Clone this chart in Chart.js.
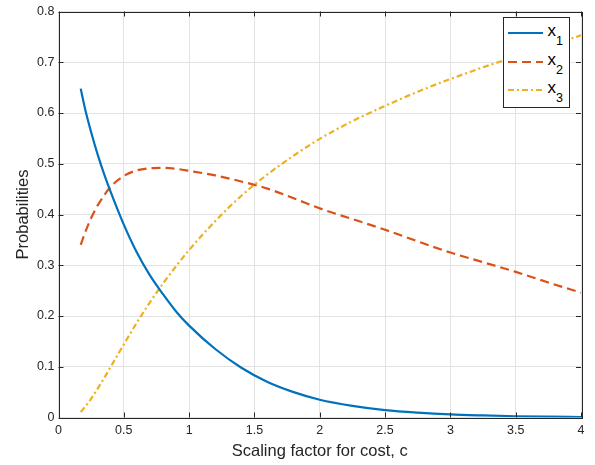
<!DOCTYPE html>
<html>
<head>
<meta charset="utf-8">
<script src="https://cdn.jsdelivr.net/npm/chart.js@4.4.1/dist/chart.umd.min.js"></script>
<style>
    html, body { margin: 0; padding: 0; background: #ffffff; }
    #wrap { position: relative; width: 595px; height: 465px; }
    #legendBox { position: absolute; left: 503px; top: 17px; }
</style>
</head>
<body>
<div id="wrap">
    <canvas id="probChart" width="595" height="465"></canvas>
    <svg id="legendBox" width="67" height="91"></svg>
</div>
<script>
// scaling factor for cost, c
const costFactor = [0.17, 0.2, 0.25, 0.3, 0.35, 0.4, 0.5, 0.6, 0.7, 0.8, 0.9, 1.0,
    1.2, 1.4, 1.6, 1.8, 2.0, 2.25, 2.5, 2.75, 3.0, 3.25, 3.5, 3.75, 4.0];

const x1Values = [0.648, 0.612, 0.562, 0.518, 0.479, 0.444, 0.38, 0.325, 0.28, 0.243, 0.209, 0.181,
    0.135, 0.098, 0.07, 0.05, 0.035, 0.023, 0.0146, 0.0095, 0.006, 0.004, 0.0025, 0.0016, 0.001];
const x2Values = [0.34, 0.362, 0.393, 0.418, 0.438, 0.455, 0.476, 0.487, 0.491, 0.492, 0.49, 0.486,
    0.477, 0.465, 0.451, 0.432, 0.412, 0.391, 0.37, 0.347, 0.325, 0.306, 0.287, 0.266, 0.246];
const x3Values = [0.011, 0.02, 0.037, 0.057, 0.078, 0.10, 0.144, 0.187, 0.227, 0.264, 0.298, 0.33,
    0.387, 0.437, 0.479, 0.516, 0.549, 0.584, 0.614, 0.642, 0.667, 0.69, 0.711, 0.732, 0.753];

const seriesNames = ['1', '2', '3'];   // subscripts of x
const xTicks = [0, 0.5, 1, 1.5, 2, 2.5, 3, 3.5, 4];
const yTicks = [0, 0.1, 0.2, 0.3, 0.4, 0.5, 0.6, 0.7, 0.8];

const axisColor = '#262626';
const fontFamily = '"Liberation Sans", Arial, Helvetica, sans-serif';

const seriesStyle = [
    { color: '#0072BD', dash: [] },
    { color: '#D95319', dash: [9, 5] },
    { color: '#EDB120', dash: [6, 3, 2, 3] }
];

function toPoints(values) {
    return values.map((v, i) => ({ x: costFactor[i], y: v }));
}

/**
 * Box around the plot area + inward tick marks (matlab look)
 */
const axisBox = {
    id: 'axisBox',
    afterDatasetsDraw(chart) {
        const { ctx, chartArea: a, scales: { x, y } } = chart;
        const len = 5;
        ctx.save();
        ctx.strokeStyle = axisColor;
        ctx.lineWidth = 1;
        ctx.beginPath();
        xTicks.forEach(v => {
            const px = Math.round(x.getPixelForValue(v)) + 0.5;
            ctx.moveTo(px, a.bottom); ctx.lineTo(px, a.bottom - len);
            ctx.moveTo(px, a.top); ctx.lineTo(px, a.top + len);
        });
        yTicks.forEach(v => {
            const py = Math.round(y.getPixelForValue(v)) + 0.5;
            ctx.moveTo(a.left, py); ctx.lineTo(a.left + len, py);
            ctx.moveTo(a.right, py); ctx.lineTo(a.right - len, py);
        });
        ctx.stroke();
        ctx.strokeRect(Math.round(a.left) + 0.5, Math.round(a.top) + 0.5,
            Math.round(a.right - a.left), Math.round(a.bottom - a.top));
        ctx.restore();
    }
};

const chart = new Chart(document.getElementById('probChart'), {
    type: 'line',
    data: {
        datasets: [x1Values, x2Values, x3Values].map((vals, i) => ({
            label: 'x' + seriesNames[i],
            data: toPoints(vals),
            borderColor: seriesStyle[i].color,
            borderDash: seriesStyle[i].dash,
            borderWidth: 2.2,
            pointRadius: 0,
            fill: false,
            cubicInterpolationMode: 'monotone'
        }))
    },
    options: {
        responsive: false,
        animation: false,
        events: [],
        layout: { padding: { left: 0, right: 14, top: 5, bottom: 0 } },
        plugins: {
            legend: { display: false },
            tooltip: { enabled: false }
        },
        scales: {
            x: {
                type: 'linear',
                min: 0,
                max: 4,
                afterBuildTicks: s => { s.ticks = xTicks.map(v => ({ value: v })); },
                afterFit: s => { s.height = 47.5; },
                grid: { color: '#e3e3e3', drawTicks: false },
                border: { display: false },
                ticks: {
                    padding: 6,
                    color: axisColor,
                    font: { family: fontFamily, size: 12.5 },
                    callback: v => String(v)
                },
                title: {
                    display: true,
                    text: 'Scaling factor for cost, c',
                    color: axisColor,
                    font: { family: fontFamily, size: 16.5 },
                    padding: { top: 0, bottom: 4 }
                }
            },
            y: {
                type: 'linear',
                min: 0,
                max: 0.8,
                afterBuildTicks: s => { s.ticks = yTicks.map(v => ({ value: v })); },
                afterFit: s => { s.width = 58.5; },
                grid: { color: '#e3e3e3', drawTicks: false },
                border: { display: false },
                ticks: {
                    padding: 4,
                    color: axisColor,
                    font: { family: fontFamily, size: 12.5 },
                    callback: v => String(v)
                },
                title: {
                    display: true,
                    text: 'Probabilities',
                    color: axisColor,
                    font: { family: fontFamily, size: 16.5 },
                    padding: { top: 14, bottom: 0 }
                }
            }
        }
    },
    plugins: [axisBox]
});

// legend with subscripts, built from the datasets
function buildLegend() {
    const svg = document.getElementById('legendBox');
    let html = '<rect x="0.5" y="0.5" width="66" height="90" fill="#ffffff" stroke="' + axisColor + '" stroke-width="1"/>';
    const rowY = [16, 45, 73];
    chart.data.datasets.forEach((ds, i) => {
        const st = seriesStyle[i];
        html += '<line x1="5" x2="40" y1="' + rowY[i] + '" y2="' + rowY[i] + '" stroke="' + st.color +
            '" stroke-width="2" stroke-dasharray="' + (st.dash.length ? st.dash.join(',') : 'none') + '"/>';
        html += '<text x="44.5" y="' + (rowY[i] + 3) + '" fill="#000" font-family=\'' + fontFamily +
            '\' font-size="17">x<tspan dy="9" font-size="12.5">' + seriesNames[i] + '</tspan></text>';
    });
    svg.innerHTML = html;
}
buildLegend();
</script>
</body>
</html>
